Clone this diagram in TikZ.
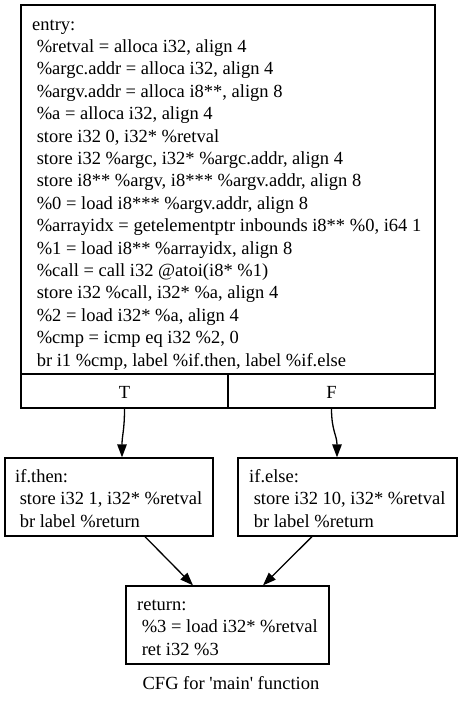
\documentclass[tikz,border=0pt]{standalone}
\usepackage{fontspec}
\setmainfont{Liberation Serif}[Ligatures=TeXOff]
\usetikzlibrary{arrows.meta}
\newcommand\ind{\hspace*{4.6pt}}
\newcommand\codesize{\fontsize{18.5}{22.4}\selectfont}
\begin{document}
\begin{tikzpicture}[x=1pt,y=-1pt,
  box/.style={draw, line width=1.3pt, rectangle, inner sep=0pt},
  txt/.style={align=left, inner sep=0pt, anchor=base west, font=\codesize},
  arr/.style={line width=1.3pt, -{Triangle[length=13pt,width=9.5pt]}}]
\useasboundingbox (0,0) rectangle (463,705);
% boxes
\node[box, minimum width=414pt, minimum height=369pt] (entry) at (228,189.5) {};
\node[box, minimum width=207pt, minimum height=34pt] (T) at (124.5,391) {};
\node[box, minimum width=207pt, minimum height=34pt] (F) at (331.5,391) {};
\node[box, minimum width=208pt, minimum height=78pt] (ifthen) at (109,497) {};
\node[box, minimum width=219pt, minimum height=78pt] (ifelse) at (347.5,497) {};
\node[box, minimum width=203pt, minimum height=78pt] (ret) at (227.5,625) {};
% texts (base anchor = baseline of the last line)
\node[txt] (entrytxt) at (32,366) {entry:\\
\ind\%retval = alloca i32, align 4\\
\ind\%argc.addr = alloca i32, align 4\\
\ind\%argv.addr = alloca i8**, align 8\\
\ind\%a = alloca i32, align 4\\
\ind store i32 0, i32* \%retval\\
\ind store i32 \%argc, i32* \%argc.addr, align 4\\
\ind store i8** \%argv, i8*** \%argv.addr, align 8\\
\ind\%0 = load i8*** \%argv.addr, align 8\\
\ind\%arrayidx = getelementptr inbounds i8** \%0, i64 1\\
\ind\%1 = load i8** \%arrayidx, align 8\\
\ind\%call = call i32 @atoi(i8* \%1)\\
\ind store i32 \%call, i32* \%a, align 4\\
\ind\%2 = load i32* \%a, align 4\\
\ind\%cmp = icmp eq i32 \%2, 0\\
\ind br i1 \%cmp, label \%if.then, label \%if.else};
\node[txt, anchor=base] (Ttxt) at (124.5,398) {T};
\node[txt, anchor=base] (Ftxt) at (331.5,398) {F};
\node[txt] (thentxt) at (15,527) {if.then:\\
\ind store i32 1, i32* \%retval\\
\ind br label \%return};
\node[txt] (elsetxt) at (249,527) {if.else:\\
\ind store i32 10, i32* \%retval\\
\ind br label \%return};
\node[txt] (rettxt) at (137,655) {return:\\
\ind\%3 = load i32* \%retval\\
\ind ret i32 \%3};
\node[txt, anchor=base] (caption) at (231,689) {CFG for 'main' function};
% edges
\draw[arr] (T.south) .. controls +(0,22) and +(0,-22) .. ([xshift=13pt]ifthen.north);
\draw[arr] (F.south) .. controls +(0,22) and +(0,-22) .. ([xshift=-10.5pt]ifelse.north);
\draw[arr] ([xshift=36pt]ifthen.south) -- ([xshift=-34.5pt]ret.north);
\draw[arr] ([xshift=-35.5pt]ifelse.south) -- ([xshift=35.5pt]ret.north);
\end{tikzpicture}
\end{document}
